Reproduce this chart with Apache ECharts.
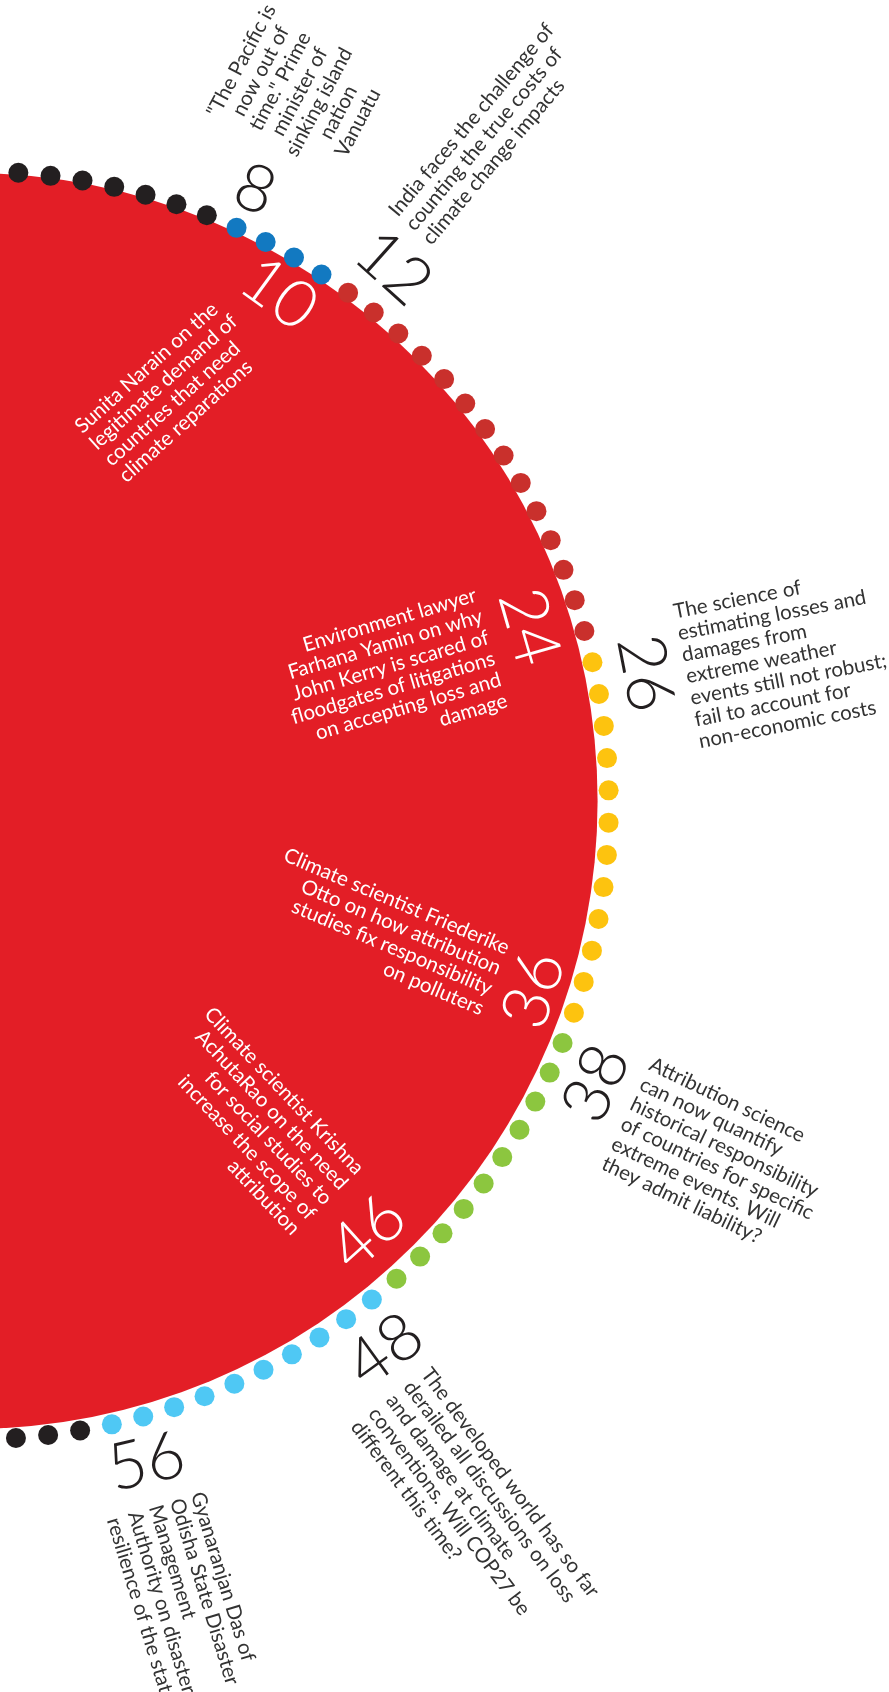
<!DOCTYPE html>
<html>
<head>
<meta charset="utf-8">
<script src="https://cdn.jsdelivr.net/npm/echarts@6/dist/echarts.min.js"></script>
<style>
html,body{margin:0;padding:0;background:#ffffff;}
#chart{width:889px;height:1692px;}
</style>
</head>
<body>
<div id="chart"></div>
<script>
// ---------------- DATA ----------------
// page sections around the ring (one dot per page)
const sectionFirstPage = [1, 8, 12, 26, 38, 48, 58];
const sectionLastPage  = [7, 11, 25, 37, 47, 57, 60];

// stories: page number, whether the number sits inside the red disc, and the blurb
const storyPages  = [8, 10, 12, 24, 26, 36, 38, 46, 48, 56];
const storyInside = [false, true, false, true, false, true, false, true, false, false];
const storyTexts  = [
  '"The Pacific is\nnow out of\ntime." Prime\nminister of\nsinking island\nnation\nVanuatu',
  'Sunita Narain on the\nlegitimate demand of\ncountries that need\nclimate reparations',
  'India faces the challenge of\ncounting the true costs of\nclimate change impacts',
  'Environment lawyer\nFarhana Yamin on why\nJohn Kerry is scared of\nfloodgates of litigations\non accepting loss and\ndamage',
  'The science of\nestimating losses and\ndamages from\nextreme weather\nevents still not robust;\nfail to account for\nnon-economic costs',
  'Climate scientist Friederike\nOtto on how attribution\nstudies fix responsibility\non polluters',
  'Attribution science\ncan now quantify\nhistorical responsibility\nof countries for specific\nextreme events. Will\nthey admit liability?',
  'Climate scientist Krishna\nAchutaRao on the need\nfor social studies to\nincrease the scope of\nattribution',
  'The developed world has so far\nderailed all discussions on loss\nand damage at climate\nconventions. Will COP27 be\ndifferent this time?',
  'Gyanaranjan Das of\nOdisha State Disaster\nManagement\nAuthority on disaster\nresilience of the state'
];

// ---------------- STYLE / LAYOUT ----------------
const sectionColors = ['#231f20', '#1279c1', '#c9302c', '#fdc30f', '#8cc63f', '#4fc8f4', '#231f20'];
const DISC_COLOR = '#e31e26';
const DEG_PER_PAGE = 2.921;
const RING_R = 634;
// numeral layout: [angle shift (pages), radius px, clockwise rotation deg]
const numeralLayout = [
  [0.03, 676, 22], [0.17, 595, 36], [0.63, 681, 42], [0.35, 582, 74], [0.65, 683, 79],
  [0.72, 589, -72], [0.72, 681, -66], [0.69, 581, -42], [0.62, 682, -36], [0.26, 679, -13]
];
// blurb layout: [angle shift (pages), radius px, clockwise rotation deg, align]
const textLayout = [
  [0.03, 784, -62, 'center'], [-3.63, 373, -42, 'left'], [0.31, 723, -50, 'left'],
  [0.65, 540, -16.4, 'right'], [0.96, 723, -11, 'left'], [0.78, 549, 22.9, 'right'],
  [1.11, 721, 25.6, 'left'], [0.99, 531, 46.6, 'right'], [1.26, 723, 53, 'left'],
  [0.33, 723, 73, 'left']
];

// ---------------- BUILD ----------------
const dotSeries = sectionFirstPage.map(function (first, s) {
  const data = [];
  for (let p = first; p <= sectionLastPage[s]; p++) data.push([RING_R, p]);
  return {
    type: 'scatter', coordinateSystem: 'polar', data: data,
    symbol: 'circle', symbolSize: 20, z: 3, silent: true,
    itemStyle: { color: sectionColors[s], opacity: 1 }
  };
});

const labelItems = [];
storyPages.forEach(function (page, i) {
  const nl = numeralLayout[i];
  labelItems.push({
    value: [nl[1], page + nl[0]], text: String(page), rot: nl[2], align: 'center',
    color: storyInside[i] ? '#ffffff' : '#231f20', size: 66, weight: 300, lh: 66
  });
  const tl = textLayout[i];
  labelItems.push({
    value: [tl[1], page + tl[0]], text: storyTexts[i], rot: tl[2], align: tl[3],
    color: storyInside[i] ? '#ffffff' : '#333333', size: 20.5, weight: 400, lh: 22
  });
});

const labelSeries = {
  type: 'custom', coordinateSystem: 'polar', z: 5, silent: true,
  data: labelItems.map(function (d) { return d.value; }),
  renderItem: function (params, api) {
    const d = labelItems[params.dataIndex];
    const pt = api.coord([api.value(0), api.value(1)]);
    return {
      type: 'text', x: pt[0], y: pt[1], rotation: -d.rot * Math.PI / 180,
      style: {
        text: d.text, fill: d.color, fontFamily: 'Lato', fontSize: d.size,
        fontWeight: d.weight, align: d.align, verticalAlign: 'middle', lineHeight: d.lh
      }
    };
  }
};

const discSeries = {
  type: 'pie', center: [-30.4, 801], radius: 628, z: 1, silent: true,
  label: { show: false }, labelLine: { show: false },
  itemStyle: { color: DISC_COLOR, borderWidth: 0 },
  data: [{ value: 1, name: 'disc' }]
};

const chart = echarts.init(document.getElementById('chart'), null, { renderer: 'canvas' });
chart.setOption({
  animation: false,
  backgroundColor: '#ffffff',
  polar: { center: [-25.2, 805.3], radius: RING_R },
  angleAxis: {
    type: 'value', min: 1, max: 1 + 360 / DEG_PER_PAGE, startAngle: 86.06, clockwise: true,
    show: false
  },
  radiusAxis: { type: 'value', min: 0, max: RING_R, show: false },
  series: [discSeries].concat(dotSeries).concat([labelSeries])
});
</script>
</body>
</html>
